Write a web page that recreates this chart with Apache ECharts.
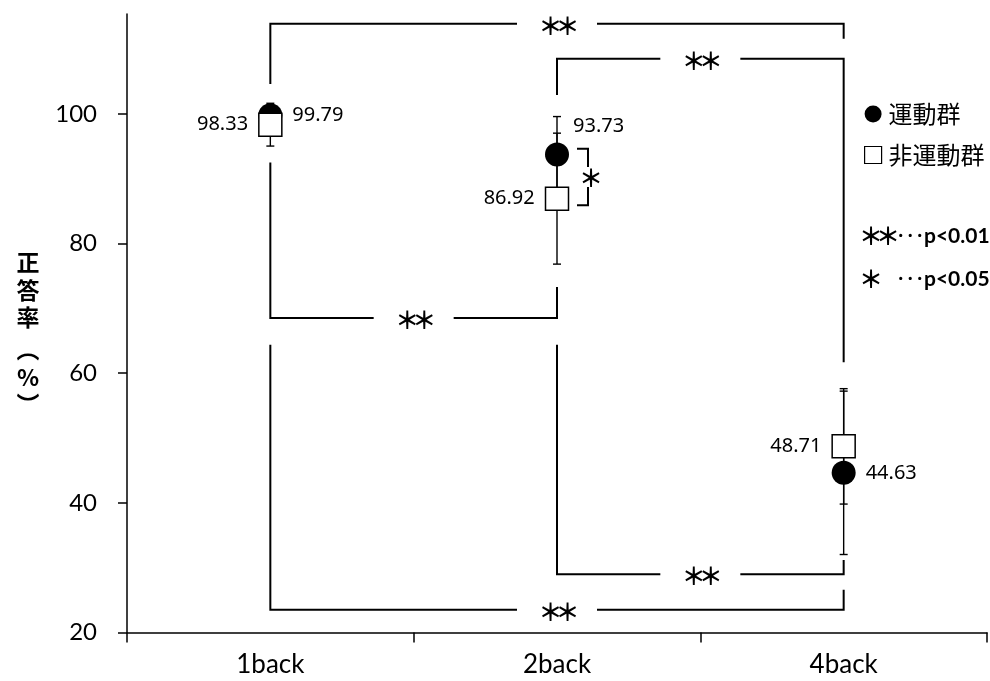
<!DOCTYPE html>
<html><head><meta charset="utf-8">
<script src="https://cdn.jsdelivr.net/npm/echarts@6/dist/echarts.min.js"></script>
<style>html,body{margin:0;padding:0;background:#fff}#c{width:990px;height:681px}</style>
</head><body><div id="c"></div>
<script>
const categories = ['1back', '2back', '4back'];
const exerciseMean = [99.79, 93.73, 44.63];
const exerciseSD = [0.7, 5.85, 12.6];
const nonExerciseMean = [98.33, 86.92, 48.71];
const nonExerciseSD = [3.3, 10.1, 8.9];
const yTicks = [20, 40, 60, 80, 100];
const yTitle = ['正', '答', '率', '︵', '%', '︶'];
// significance brackets: [from category, to category, bar level, from-leg end, to-leg end]
const brackets = [
  [0, 2, 113.9, 104.6, 111.6],
  [1, 2, 108.5, 102.9, 61.7],
  [0, 1, 68.5, 92.5, 73.3],
  [1, 2, 29.0, 64.4, 31.2],
  [0, 2, 23.5, 64.4, 26.6]
];
const bracketStars = [2, 2, 2, 2, 2];
// within-category bracket (2back, exercise vs non-exercise): [category, top, bottom]
const pairBracket = [[1, 94.6, 85.9]];

const chart = echarts.init(document.getElementById('c'), null, {renderer: 'canvas'});
const BLACK = '#000';
const starFont = 'Noto Sans CJK JP';
const STAR_SIZE = 24, STAR_STEP = 17;

function stars(n, cx, cy) {
  const out = [];
  for (let k = 0; k < n; k++) {
    out.push({type: 'text', x: cx + (k - (n - 1) / 2) * STAR_STEP, y: cy,
      style: {text: '＊', fontFamily: starFont, fontWeight: 'bold', fontSize: STAR_SIZE, fill: BLACK, align: 'center', verticalAlign: 'middle'}});
  }
  return out;
}

function errorRender(params, api) {
  const i = api.value(0), m = api.value(1), s = api.value(2);
  const t = api.coord([i, m + s]);
  const b = api.coord([i, m - s]);
  const hw = 4;
  const st = {stroke: BLACK, lineWidth: 1.4};
  return {type: 'group', children: [
    {type: 'line', shape: {x1: t[0], y1: t[1], x2: b[0], y2: b[1]}, style: st},
    {type: 'line', shape: {x1: t[0] - hw, y1: t[1], x2: t[0] + hw, y2: t[1]}, style: st},
    {type: 'line', shape: {x1: b[0] - hw, y1: b[1], x2: b[0] + hw, y2: b[1]}, style: st}
  ]};
}

function bracketRender(params, api) {
  const a = api.value(0), c = api.value(1), lv = api.value(2), ea = api.value(3), ec = api.value(4);
  const pA = api.coord([a, lv]), pC = api.coord([c, lv]);
  const lA = api.coord([a, ea]), lC = api.coord([c, ec]);
  const mid = (pA[0] + pC[0]) / 2, gap = 40;
  const st = {stroke: BLACK, lineWidth: 2, fill: null};
  return {type: 'group', children: [
    {type: 'polyline', shape: {points: [lA, pA, [mid - gap, pA[1]]]}, style: st},
    {type: 'polyline', shape: {points: [[mid + gap, pC[1]], pC, lC]}, style: st}
  ].concat(stars(bracketStars[params.dataIndex], mid + 2, pA[1] + 2))};
}

function pairRender(params, api) {
  const i = api.value(0), top = api.value(1), bot = api.value(2);
  const t = api.coord([i, top]), b = api.coord([i, bot]);
  const x0 = t[0] + 20, x1 = t[0] + 31;
  const midY = (t[1] + b[1]) / 2, gap = 10;
  const st = {stroke: BLACK, lineWidth: 2, fill: null};
  return {type: 'group', children: [
    {type: 'polyline', shape: {points: [[x0, t[1]], [x1, t[1]], [x1, midY - gap]]}, style: st},
    {type: 'polyline', shape: {points: [[x1, midY + gap], [x1, b[1]], [x0, b[1]]]}, style: st}
  ].concat(stars(1, x1 + 3, midY + 1))};
}

const labelFont = {fontFamily: 'Noto Sans', fontSize: 20, color: BLACK};
const fmt = p => Number(p.value).toFixed(2);
const noteText = {fontFamily: 'Lato', fontWeight: 'bold', fontSize: 21, fill: BLACK};
const dotText = {fontFamily: 'Noto Sans CJK JP', fontSize: 19, fill: BLACK};
const titleOffsets = [0, 28, 55, 87, 115, 142];
const titleChildren = yTitle.map((ch, k) => ({type: 'text', x: 0, y: titleOffsets[k],
  style: {text: ch, fontFamily: 'Noto Sans CJK JP', fontWeight: 'bold', fontSize: 23, fill: BLACK, align: 'center', verticalAlign: 'middle'}}));

const option = {
  backgroundColor: '#fff',
  animation: false,
  grid: {left: 127, right: 3, top: 14, bottom: 48.5},
  xAxis: {
    type: 'category', data: categories, boundaryGap: true,
    axisLine: {lineStyle: {color: BLACK, width: 1.5}},
    axisTick: {show: true, length: 10, lineStyle: {color: BLACK, width: 1.5}},
    axisLabel: {fontFamily: 'Lato', fontSize: 26, color: BLACK, margin: 19},
    splitLine: {show: false}
  },
  yAxis: {
    type: 'value', min: 20, max: 115.4, interval: 20,
    axisLine: {show: true, lineStyle: {color: BLACK, width: 1.5}},
    axisTick: {show: true, length: 9, customValues: yTicks, lineStyle: {color: BLACK, width: 1.5}},
    axisLabel: {customValues: yTicks, fontFamily: 'Lato', fontSize: 24, color: BLACK, margin: 30},
    splitLine: {show: false}
  },
  legend: {
    orient: 'vertical', left: 859, top: 97, itemWidth: 17, itemHeight: 17, itemGap: 17,
    selectedMode: false,
    textStyle: {fontFamily: 'Noto Sans CJK JP', fontSize: 24, color: BLACK, padding: [0, 0, 0, 2]},
    data: [
      {name: '運動群', icon: 'circle', itemStyle: {color: BLACK, borderWidth: 0}},
      {name: '非運動群', icon: 'rect', itemStyle: {color: '#fff', borderColor: BLACK, borderWidth: 1.2}}
    ]
  },
  graphic: [
    {type: 'group', x: 28, y: 262, children: titleChildren},
    {type: 'group', left: 859, top: 224, children: [
      {type: 'text', x: 8, y: 13, style: {text: '＊', fontFamily: starFont, fontWeight: 'bold', fontSize: STAR_SIZE, fill: BLACK, align: 'center', verticalAlign: 'middle'}},
      {type: 'text', x: 25, y: 13, style: {text: '＊', fontFamily: starFont, fontWeight: 'bold', fontSize: STAR_SIZE, fill: BLACK, align: 'center', verticalAlign: 'middle'}},
      {type: 'text', x: 33, y: 13, style: Object.assign({text: '･･･', verticalAlign: 'middle'}, dotText)},
      {type: 'text', x: 61, y: 13, style: Object.assign({text: 'p<0.01', verticalAlign: 'middle'}, noteText)}
    ]},
    {type: 'group', left: 859, top: 267, children: [
      {type: 'text', x: 8, y: 13, style: {text: '＊', fontFamily: starFont, fontWeight: 'bold', fontSize: STAR_SIZE, fill: BLACK, align: 'center', verticalAlign: 'middle'}},
      {type: 'text', x: 33, y: 13, style: Object.assign({text: '･･･', verticalAlign: 'middle'}, dotText)},
      {type: 'text', x: 61, y: 13, style: Object.assign({text: 'p<0.05', verticalAlign: 'middle'}, noteText)}
    ]}
  ],
  series: [
    {type: 'custom', name: 'err-ex', renderItem: errorRender, z: 2, silent: true,
      data: exerciseMean.map((m, i) => [i, m, exerciseSD[i]])},
    {type: 'custom', name: 'err-non', renderItem: errorRender, z: 2, silent: true,
      data: nonExerciseMean.map((m, i) => [i, m, nonExerciseSD[i]])},
    {type: 'custom', name: 'brackets', renderItem: bracketRender, z: 1, silent: true, clip: false,
      data: brackets},
    {type: 'custom', name: 'pair', renderItem: pairRender, z: 1, silent: true, clip: false,
      data: pairBracket},
    {type: 'scatter', name: '運動群', symbol: 'circle', symbolSize: 24, z: 3,
      itemStyle: {color: BLACK, opacity: 1},
      label: Object.assign({show: true, position: 'right', distance: 10, formatter: fmt}, labelFont),
      data: exerciseMean.map((v, i) => i === 1 ? {value: v, label: {offset: [-6, -28]}} : v)},
    {type: 'scatter', name: '非運動群', symbol: 'rect', symbolSize: 23, z: 4,
      itemStyle: {color: '#fff', borderColor: BLACK, borderWidth: 1.5, opacity: 1},
      label: Object.assign({show: true, position: 'left', distance: 10, formatter: fmt}, labelFont),
      data: nonExerciseMean}
  ]
};
chart.setOption(option);
</script></body></html>
